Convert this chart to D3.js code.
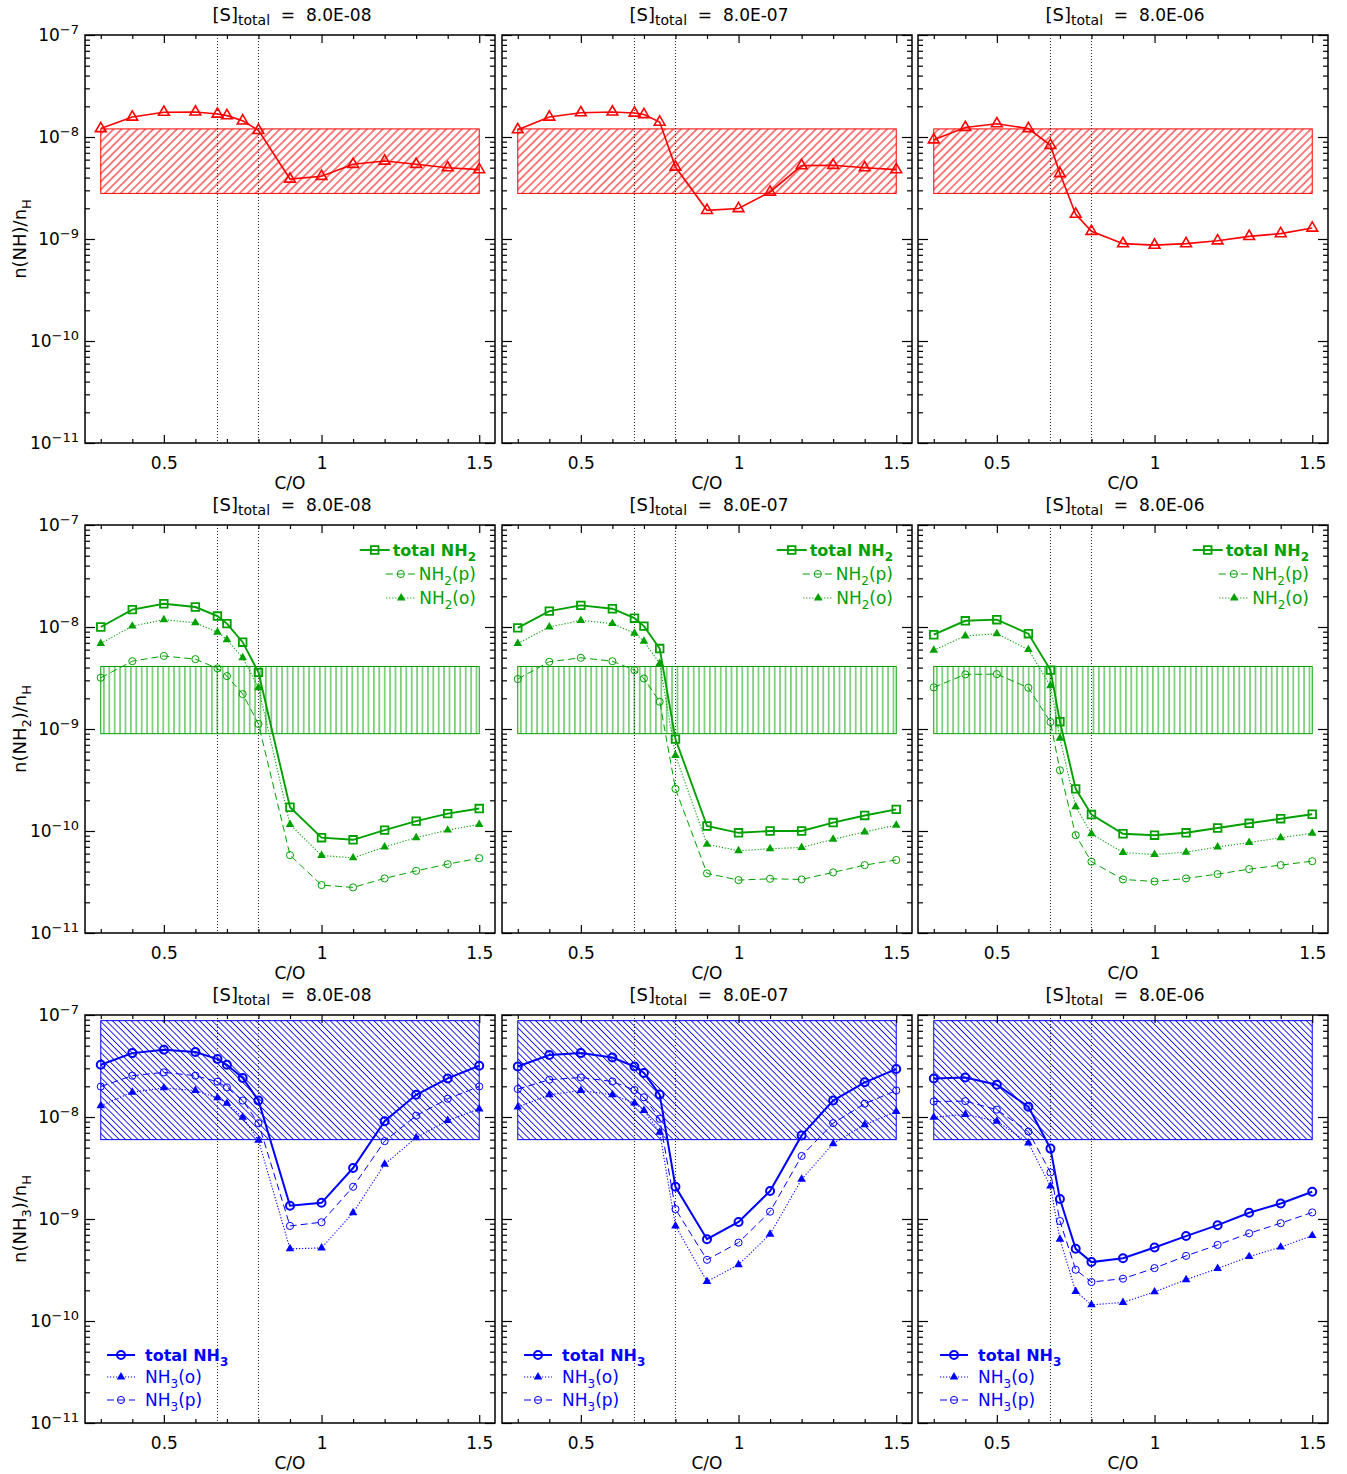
<!DOCTYPE html>
<html><head><meta charset="utf-8">
<script src="https://cdn.jsdelivr.net/npm/d3@7"></script>
<style>
body{margin:0;background:#fff}
text{font-family:"DejaVu Sans",sans-serif}
</style>
</head><body>
<svg id="c" width="1347" height="1474"></svg>
<script>
// ---------------- data ----------------
const coRatio = [0.3,0.4,0.5,0.6,0.67,0.7,0.75,0.8,0.9,1.0,1.1,1.2,1.3,1.4,1.5];
const xMajorTicks = [0.5,1,1.5];
const xMinorTicks = [0.3,0.4,0.6,0.7,0.8,0.9,1.1,1.2,1.3,1.4];
const yMajorTicks = [1e-11,1e-10,1e-9,1e-8,1e-7];
const yMinorTicks = [-11,-10,-9,-8].flatMap(e=>[2,3,4,5,6,7,8,9].map(m=>m*Math.pow(10,e)));
const sTotalLabels = ["8.0E-08","8.0E-07","8.0E-06"];
const criticalCO = [0.67,0.8];
const obsRangeX = [0.3,1.5];
const nhObs  = [2.8e-9, 1.2e-8];
const nh2Obs = [9.0e-10, 4.1e-9];
const nh3Obs = [6.0e-9, 8.8e-8];

// NH
const nhS8e8 = [1.21e-8,1.57e-8,1.75e-8,1.76e-8,1.68e-8,1.62e-8,1.44e-8,1.16e-8,3.87e-9,4.12e-9,5.4e-9,5.82e-9,5.4e-9,5.0e-9,4.79e-9];
const nhS8e7 = [1.18e-8,1.57e-8,1.73e-8,1.76e-8,1.72e-8,1.66e-8,1.40e-8,5.08e-9,1.91e-9,1.99e-9,2.89e-9,5.24e-9,5.28e-9,5.0e-9,4.79e-9];
const nhS8e6 = [9.4e-9,1.24e-8,1.35e-8,1.21e-8,8.3e-9,4.38e-9,1.75e-9,1.19e-9,9.0e-10,8.7e-10,9.0e-10,9.6e-10,1.06e-9,1.13e-9,1.28e-9];

// NH2
const nh2TotS8e8   = [1.0e-8,1.48e-8,1.69e-8,1.57e-8,1.28e-8,1.08e-8,7.1e-9,3.59e-9,1.71e-10,8.6e-11,8.2e-11,1.02e-10,1.25e-10,1.48e-10,1.66e-10];
const nh2OrthoS8e8 = [6.9e-9,1.02e-8,1.18e-8,1.1e-8,8.9e-9,7.5e-9,4.99e-9,2.54e-9,1.16e-10,5.75e-11,5.45e-11,6.98e-11,8.6e-11,1.02e-10,1.16e-10];
const nh2ParaS8e8  = [3.18e-9,4.62e-9,5.2e-9,4.84e-9,3.93e-9,3.3e-9,2.2e-9,1.12e-9,5.8e-11,2.95e-11,2.8e-11,3.43e-11,4.07e-11,4.73e-11,5.42e-11];
const nh2TotS8e7   = [9.8e-9,1.43e-8,1.63e-8,1.51e-8,1.22e-8,1.02e-8,6.15e-9,7.96e-10,1.12e-10,9.6e-11,1.0e-10,1.0e-10,1.21e-10,1.42e-10,1.63e-10];
const nh2OrthoS8e7 = [6.9e-9,1.0e-8,1.16e-8,1.08e-8,8.7e-9,7.25e-9,4.39e-9,5.5e-10,7.4e-11,6.4e-11,6.7e-11,6.9e-11,8.3e-11,9.8e-11,1.14e-10];
const nh2ParaS8e7  = [3.09e-9,4.56e-9,4.99e-9,4.62e-9,3.78e-9,3.13e-9,1.85e-9,2.59e-10,3.84e-11,3.3e-11,3.4e-11,3.35e-11,3.93e-11,4.63e-11,5.2e-11];
const nh2TotS8e6   = [8.4e-9,1.15e-8,1.18e-8,8.6e-9,3.78e-9,1.18e-9,2.59e-10,1.45e-10,9.4e-11,9.1e-11,9.6e-11,1.07e-10,1.19e-10,1.32e-10,1.46e-10];
const nh2OrthoS8e6 = [5.93e-9,8.17e-9,8.6e-9,6.0e-9,2.65e-9,8.1e-10,1.73e-10,9.4e-11,6.15e-11,5.88e-11,6.2e-11,6.98e-11,7.7e-11,8.6e-11,9.5e-11];
const nh2ParaS8e6  = [2.56e-9,3.43e-9,3.45e-9,2.54e-9,1.17e-9,3.94e-10,9.1e-11,5.0e-11,3.35e-11,3.2e-11,3.43e-11,3.78e-11,4.23e-11,4.63e-11,5.06e-11];

// NH3
const nh3TotS8e8   = [3.25e-8,4.23e-8,4.56e-8,4.33e-8,3.7e-8,3.25e-8,2.41e-8,1.45e-8,1.35e-9,1.44e-9,3.16e-9,9.1e-9,1.65e-8,2.39e-8,3.18e-8];
const nh3OrthoS8e8 = [1.29e-8,1.75e-8,1.93e-8,1.82e-8,1.54e-8,1.36e-8,9.96e-9,5.9e-9,5.1e-10,5.2e-10,1.15e-9,3.44e-9,6.27e-9,9.25e-9,1.2e-8];
const nh3ParaS8e8  = [1.99e-8,2.54e-8,2.74e-8,2.54e-8,2.22e-8,1.95e-8,1.45e-8,8.7e-9,8.55e-10,9.3e-10,2.07e-9,5.8e-9,1.03e-8,1.51e-8,1.99e-8];
const nh3TotS8e7   = [3.13e-8,4.05e-8,4.23e-8,3.83e-8,3.13e-8,2.7e-8,1.66e-8,2.07e-9,6.34e-10,9.35e-10,1.88e-9,6.6e-9,1.45e-8,2.19e-8,2.95e-8];
const nh3OrthoS8e7 = [1.25e-8,1.65e-8,1.82e-8,1.65e-8,1.37e-8,1.16e-8,7.1e-9,8.55e-10,2.44e-10,3.56e-10,7.1e-10,2.45e-9,5.48e-9,8.4e-9,1.13e-8];
const nh3ParaS8e7  = [1.88e-8,2.32e-8,2.44e-8,2.23e-8,1.84e-8,1.56e-8,9.6e-9,1.25e-9,3.98e-10,5.87e-10,1.18e-9,4.15e-9,8.7e-9,1.35e-8,1.82e-8];
const nh3TotS8e6   = [2.39e-8,2.44e-8,2.07e-8,1.26e-8,4.9e-9,1.57e-9,5.1e-10,3.78e-10,4.13e-10,5.25e-10,6.8e-10,8.7e-10,1.15e-9,1.42e-9,1.85e-9];
const nh3OrthoS8e6 = [9.95e-9,1.06e-8,9.1e-9,5.55e-9,2.1e-9,6.34e-10,1.95e-10,1.44e-10,1.52e-10,1.93e-10,2.54e-10,3.27e-10,4.28e-10,5.3e-10,6.87e-10];
const nh3ParaS8e6  = [1.42e-8,1.43e-8,1.18e-8,7.2e-9,2.86e-9,9.55e-10,3.18e-10,2.41e-10,2.6e-10,3.3e-10,4.35e-10,5.57e-10,7.24e-10,9.1e-10,1.16e-9];

// ---------------- layout & style ----------------
const PW = 410, PH = 408;
const colX = [85,502,918], rowY = [35,525,1015];
const RED = "#ff0000", GREEN = "#00a000", BLUE = "#0000ff";
const FS = 17;

const svg = d3.select("#c");
const x = d3.scaleLinear().domain([0.25,1.55]).range([0,PW]);
const y = d3.scaleLog().domain([1e-11,1e-7]).range([PH,0]);

const defs = svg.append("defs");
function hatch(id,color,spacing,angle,lw){
  const p = defs.append("pattern").attr("id",id).attr("patternUnits","userSpaceOnUse")
    .attr("width",spacing).attr("height",spacing).attr("patternTransform",`rotate(${angle})`);
  p.append("line").attr("x1",spacing/2).attr("y1",-1).attr("x2",spacing/2).attr("y2",spacing+1)
    .attr("stroke",color).attr("stroke-width",lw);
}
hatch("hRed",RED,5.6,45,1.0);
hatch("hGreen",GREEN,5.4,0,0.9);
hatch("hBlue",BLUE,4.4,-45,0.85);

const styles = {
  nh:    {marker:"triOpen", lw:1.6, dash:null},
  tot2:  {marker:"square",  lw:1.9, dash:null},
  para:  {marker:"circle",  lw:1.0, dash:"7,4"},
  ortho: {marker:"triFill", lw:1.1, dash:"1.2,1.8"},
  tot3:  {marker:"circleBold", lw:2.0, dash:null}
};
function drawMarker(sel, kind, color){
  if(kind==="triOpen") sel.attr("d",d3.symbol(d3.symbolTriangle,50)()).attr("fill","none").attr("stroke",color).attr("stroke-width",1.6);
  else if(kind==="triFill") sel.attr("d",d3.symbol(d3.symbolTriangle,32)()).attr("fill",color).attr("stroke","none");
  else if(kind==="square") sel.attr("d",d3.symbol(d3.symbolSquare,58)()).attr("fill","none").attr("stroke",color).attr("stroke-width",1.8);
  else if(kind==="circle") sel.attr("d",d3.symbol(d3.symbolCircle,40)()).attr("fill","none").attr("stroke",color).attr("stroke-width",1);
  else if(kind==="circleBold") sel.attr("d",d3.symbol(d3.symbolCircle,50)()).attr("fill","none").attr("stroke",color).attr("stroke-width",2);
}
function drawSeries(g, vals, st, color){
  const line = d3.line().x((d,i)=>x(coRatio[i])).y(d=>y(d));
  g.append("path").attr("d",line(vals)).attr("fill","none").attr("stroke",color)
    .attr("stroke-width",st.lw).attr("stroke-dasharray",st.dash);
  g.append("g").selectAll("path").data(vals).join("path")
    .attr("transform",(d,i)=>`translate(${x(coRatio[i])},${y(d)})`)
    .call(s=>drawMarker(s,st.marker,color));
}

const rows = [
  {color:RED,   obs:nhObs,  pat:"hRed",   mol:"", series:[[{v:nhS8e8,s:"nh"}],[{v:nhS8e7,s:"nh"}],[{v:nhS8e6,s:"nh"}]]},
  {color:GREEN, obs:nh2Obs, pat:"hGreen", mol:"2", series:[
      [{v:nh2ParaS8e8,s:"para"},{v:nh2OrthoS8e8,s:"ortho"},{v:nh2TotS8e8,s:"tot2"}],
      [{v:nh2ParaS8e7,s:"para"},{v:nh2OrthoS8e7,s:"ortho"},{v:nh2TotS8e7,s:"tot2"}],
      [{v:nh2ParaS8e6,s:"para"},{v:nh2OrthoS8e6,s:"ortho"},{v:nh2TotS8e6,s:"tot2"}]]},
  {color:BLUE,  obs:nh3Obs, pat:"hBlue",  mol:"3", series:[
      [{v:nh3ParaS8e8,s:"para"},{v:nh3OrthoS8e8,s:"ortho"},{v:nh3TotS8e8,s:"tot3"}],
      [{v:nh3ParaS8e7,s:"para"},{v:nh3OrthoS8e7,s:"ortho"},{v:nh3TotS8e7,s:"tot3"}],
      [{v:nh3ParaS8e6,s:"para"},{v:nh3OrthoS8e6,s:"ortho"},{v:nh3TotS8e6,s:"tot3"}]]}
];

function styleAxis(a){
  a.select(".domain").remove();
  a.selectAll("line").attr("stroke","#000").attr("stroke-width",1.2);
  a.selectAll("text").attr("fill","#000").style("font-size",FS+"px").style("font-family","DejaVu Sans");
  a.attr("font-family",null).attr("font-size",null);
  return a;
}

function addLegend(g, ri, color){
  let entries;
  if(ri===1){
    entries = [
      {pre:"total NH",sub:"2",post:"",bold:true,st:"tot2"},
      {pre:"NH",sub:"2",post:"(p)",bold:false,st:"para"},
      {pre:"NH",sub:"2",post:"(o)",bold:false,st:"ortho"}];
  } else {
    entries = [
      {pre:"total NH",sub:"3",post:"",bold:true,st:"tot3"},
      {pre:"NH",sub:"3",post:"(o)",bold:false,st:"ortho"},
      {pre:"NH",sub:"3",post:"(p)",bold:false,st:"para"}];
  }
  const ys = ri===1 ? [25,49,73] : [340,362,385];
  entries.forEach((e,k)=>{
    const yy = ys[k];
    const t = g.append("text").attr("y",yy).attr("dy","0.35em").attr("fill",color)
      .style("font-size",(e.bold?16:17)+"px").style("font-weight",e.bold?"bold":"normal");
    t.append("tspan").text(e.pre);
    t.append("tspan").attr("dy",5).style("font-size","12px").text(e.sub);
    if(e.post) t.append("tspan").attr("dy",-5).text(e.post);
    let x0, x1;
    if(ri===1){
      const w = t.node().getComputedTextLength();
      const tx = 391 - w;
      t.attr("x",tx);
      x1 = tx-3; x0 = x1-30;
    } else {
      t.attr("x",60);
      x0 = 22; x1 = 50;
    }
    const st = styles[e.st];
    g.append("line").attr("x1",x0).attr("x2",x1).attr("y1",yy).attr("y2",yy)
      .attr("stroke",color).attr("stroke-width",st.lw).attr("stroke-dasharray",st.dash);
    g.append("path").attr("transform",`translate(${(x0+x1)/2},${yy})`).call(s=>drawMarker(s,st.marker,color));
  });
}

rows.forEach((row,ri)=>{
  [0,1,2].forEach(ci=>{
    const g = svg.append("g").attr("transform",`translate(${colX[ci]},${rowY[ri]})`);
    // observed range box
    g.append("rect").attr("x",x(obsRangeX[0])).attr("y",y(row.obs[1]))
      .attr("width",x(obsRangeX[1])-x(obsRangeX[0])).attr("height",y(row.obs[0])-y(row.obs[1]))
      .attr("fill",`url(#${row.pat})`).attr("stroke",row.color).attr("stroke-width",1);
    // critical C/O lines
    g.selectAll("line.crit").data(criticalCO).join("line").attr("class","crit")
      .attr("x1",d=>x(d)).attr("x2",d=>x(d)).attr("y1",0).attr("y2",PH)
      .attr("stroke","#222").attr("stroke-width",1).attr("stroke-dasharray","1,2");
    // series
    row.series[ci].forEach(s=>drawSeries(g,s.v,styles[s.s],row.color));
    // axes
    styleAxis(g.append("g").attr("transform",`translate(0,${PH})`)
      .call(d3.axisBottom(x).tickValues(xMajorTicks).tickSize(-8).tickPadding(14).tickFormat(d=>String(d))));
    styleAxis(g.append("g").attr("transform",`translate(0,${PH})`)
      .call(d3.axisBottom(x).tickValues(xMinorTicks).tickSize(-4).tickFormat("")));
    styleAxis(g.append("g").call(d3.axisTop(x).tickValues(xMajorTicks).tickSize(-8).tickFormat("")));
    styleAxis(g.append("g").call(d3.axisTop(x).tickValues(xMinorTicks).tickSize(-4).tickFormat("")));
    const la = styleAxis(g.append("g").call(d3.axisLeft(y).tickValues(yMajorTicks).tickSize(-10).tickPadding(6)
      .tickFormat(ci===0 ? (d=>"10") : "")));
    if(ci===0){
      la.selectAll(".tick text").each(function(d){
        const e = Math.round(Math.log10(d));
        d3.select(this).append("tspan").attr("dy","-0.5em").style("font-size","13px").text("\u2212"+(-e));
      });
    }
    styleAxis(g.append("g").call(d3.axisLeft(y).tickValues(yMinorTicks).tickSize(-5).tickFormat("")));
    styleAxis(g.append("g").attr("transform",`translate(${PW},0)`).call(d3.axisRight(y).tickValues(yMajorTicks).tickSize(-10).tickFormat("")));
    styleAxis(g.append("g").attr("transform",`translate(${PW},0)`).call(d3.axisRight(y).tickValues(yMinorTicks).tickSize(-5).tickFormat("")));
    // frame
    g.append("rect").attr("width",PW).attr("height",PH).attr("fill","none").attr("stroke","#000").attr("stroke-width",1.5);
    // title
    const t = g.append("text").attr("x",PW/2+2).attr("y",-14).attr("text-anchor","middle").style("font-size",FS+"px");
    t.append("tspan").style("font-size","18px").text("[S]");
    t.append("tspan").attr("dy",4).style("font-size","14px").text("total");
    t.append("tspan").attr("dy",-4).text("\u00a0\u00a0=\u00a0\u00a0"+sTotalLabels[ci]);
    // x label
    g.append("text").attr("x",PW/2).attr("y",PH+46).attr("text-anchor","middle").style("font-size",FS+"px").text("C/O");
    // y label
    if(ci===0){
      const yl = g.append("text").attr("transform",`translate(-59,${PH/2}) rotate(-90)`).attr("text-anchor","middle").style("font-size","18px");
      yl.append("tspan").text("n(NH");
      if(row.mol){ yl.append("tspan").attr("dy",5).style("font-size","13px").text(row.mol); yl.append("tspan").attr("dy",-5).text(")/n"); }
      else yl.append("tspan").text(")/n");
      yl.append("tspan").attr("dy",5).style("font-size","13px").text("H");
    }
    if(ri>0) addLegend(g, ri, row.color);
  });
});
</script>
</body></html>
